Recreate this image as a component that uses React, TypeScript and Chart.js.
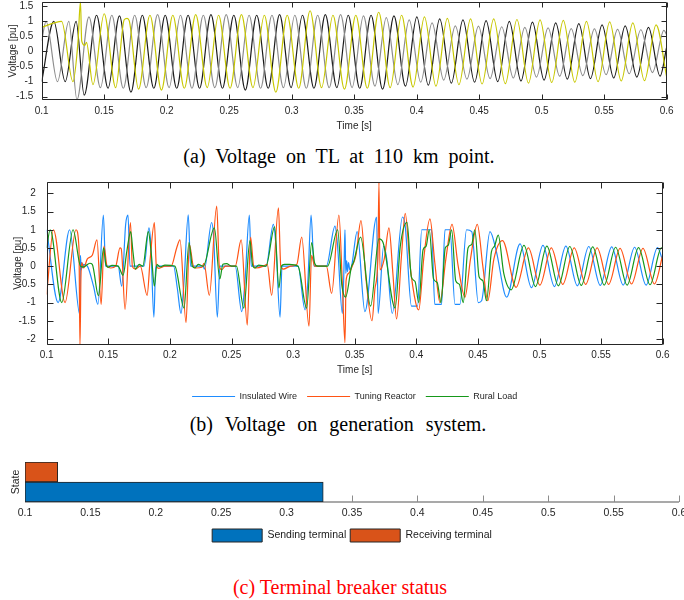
import React, { useEffect, useRef } from 'react';
import { Chart, registerables } from 'chart.js';

Chart.register(...registerables);
Chart.defaults.font.family = '"Liberation Sans", Arial, Helvetica, sans-serif';
Chart.defaults.color = '#262626';

// ---------- shared ticks ----------
const timeTicks = [0.1, 0.15, 0.2, 0.25, 0.3, 0.35, 0.4, 0.45, 0.5, 0.55, 0.6];
const tlVoltTicks = [-1.5, -1, -0.5, 0, 0.5, 1, 1.5];
const genVoltTicks = [-2, -1.5, -1, -0.5, 0, 0.5, 1, 1.5, 2];

// ---------- (a) voltage on TL at 110 km (extrema) ----------
const tlPhaseAT = [0.1000,0.1097,0.1188,0.1275,0.1340,0.1439,0.1531,0.1622,0.1714,0.1805,0.1897,0.1988,0.2080,0.2171,0.2263,0.2354,0.2446,0.2537,0.2629,0.2720,0.2812,0.2903,0.2995,0.3086,0.3178,0.3269,0.3361,0.3452,0.3544,0.3635,0.3727,0.3818,0.3910,0.4001,0.4093,0.4184,0.4277,0.4370,0.4463,0.4555,0.4648,0.4741,0.4834,0.4926,0.5019,0.5112,0.5205,0.5297,0.5390,0.5483,0.5576,0.5668,0.5761,0.5854,0.5947,0.6000];
const tlPhaseAV = [-1.00,1.00,-1.00,1.00,-1.45,1.20,-1.22,1.18,-1.35,1.20,-1.22,1.20,-1.22,1.20,-1.22,1.22,-1.22,1.20,-1.28,1.20,-1.22,1.22,-1.20,1.20,-1.22,1.22,-1.20,1.20,-1.22,1.20,-1.25,1.18,-1.15,1.15,-1.12,1.08,-1.05,1.05,-1.02,1.02,-1.00,1.00,-0.98,0.97,-0.95,0.95,-0.92,0.92,-0.90,0.88,-0.88,0.85,-0.85,0.80,-0.82,0.15];

const tlPhaseBT = [0.1000,0.1035,0.1126,0.1217,0.1282,0.1378,0.1470,0.1561,0.1653,0.1744,0.1836,0.1927,0.2019,0.2110,0.2202,0.2293,0.2385,0.2476,0.2568,0.2659,0.2751,0.2842,0.2934,0.3025,0.3117,0.3208,0.3300,0.3391,0.3483,0.3574,0.3666,0.3757,0.3849,0.3940,0.4032,0.4123,0.4216,0.4309,0.4402,0.4494,0.4587,0.4680,0.4773,0.4865,0.4958,0.5051,0.5144,0.5236,0.5329,0.5422,0.5515,0.5607,0.5700,0.5793,0.5886,0.5978,0.6000];
const tlPhaseBV = [0.36,1.00,-1.00,1.00,-1.60,1.15,-1.20,1.20,-1.22,1.20,-1.20,1.22,-1.20,1.20,-1.22,1.20,-1.20,1.22,-1.20,1.20,-1.22,1.20,-1.20,1.20,-1.22,1.20,-1.20,1.22,-1.20,1.18,-1.15,1.12,-1.10,1.05,-1.02,0.95,-0.95,0.85,-0.92,0.84,-0.90,0.82,-0.88,0.80,-0.85,0.78,-0.82,0.76,-0.80,0.75,-0.77,0.73,-0.74,0.72,-0.70,0.70,0.55];

const tlPhaseCT = [0.1000,0.1159,0.1250,0.1290,0.1310,0.1320,0.1345,0.1358,0.1410,0.1500,0.1592,0.1660,0.1683,0.1700,0.1775,0.1866,0.1958,0.2049,0.2141,0.2232,0.2324,0.2415,0.2507,0.2598,0.2690,0.2781,0.2873,0.2964,0.3056,0.3147,0.3239,0.3330,0.3422,0.3513,0.3605,0.3696,0.3788,0.3879,0.3971,0.4062,0.4154,0.4245,0.4338,0.4431,0.4523,0.4616,0.4709,0.4802,0.4894,0.4987,0.5080,0.5173,0.5265,0.5358,0.5451,0.5544,0.5636,0.5729,0.5822,0.5915,0.6000];
const tlPhaseCV = [0.80,1.00,-1.00,0.30,1.65,0.35,0.20,0.30,-1.10,1.25,-1.20,1.05,1.10,1.02,-1.25,1.20,-1.28,1.20,-1.22,1.22,-1.20,1.20,-1.22,1.22,-1.20,1.20,-1.35,1.20,-1.22,1.35,-1.20,1.20,-1.25,1.20,-1.22,1.30,-1.20,1.20,-1.18,1.15,-1.15,1.10,-1.10,1.08,-1.08,1.08,-1.07,1.06,-1.05,1.05,-1.03,1.03,-1.02,1.00,-1.00,0.98,-0.98,0.95,-0.97,0.88,-0.85];

// ---------- (b) voltage on generation system ----------
const wireT = [0.1000,0.1093,0.1186,0.1270,0.1274,0.1280,0.1285,0.1292,0.1300,0.1330,0.1380,0.1416,0.1460,0.1478,0.1580,0.1609,0.1641,0.1660,0.1676,0.1790,0.1830,0.1845,0.1870,0.1885,0.2030,0.2060,0.2090,0.2115,0.2149,0.2168,0.2270,0.2280,0.2339,0.2355,0.2385,0.2406,0.2530,0.2583,0.2610,0.2645,0.2660,0.2780,0.2840,0.2860,0.2894,0.2910,0.3040,0.3097,0.3120,0.3146,0.3170,0.3270,0.3340,0.3360,0.3400,0.3415,0.3421,0.3428,0.3435,0.3442,0.3450,0.3460,0.3475,0.3520,0.3583,0.3678,0.3690,0.3735,0.3760,0.3805,0.3888,0.3910,0.3961,0.4010,0.4044,0.4124,0.4150,0.4205,0.4233,0.4273,0.4314,0.4354,0.4408,0.4450,0.4503,0.4530,0.4598,0.4650,0.4733,0.4842,0.4935,0.5028,0.5121,0.5214,0.5307,0.5400,0.5493,0.5586,0.5679,0.5772,0.5865,0.5958,0.6000];
const wireV = [1.00,-1.00,1.00,-1.35,0.30,-0.10,0.10,-0.05,0.05,0.00,-0.55,-1.05,1.40,0.00,0.00,-0.55,1.15,1.40,0.00,0.00,1.05,0.60,-1.40,0.00,0.00,-0.60,-1.30,-0.40,1.41,0.00,0.00,-0.08,1.20,0.80,-1.40,0.00,0.00,-1.25,-0.40,1.40,0.00,0.00,1.15,0.60,-1.40,0.00,0.00,-1.20,-0.40,1.40,0.00,0.00,1.10,0.60,-1.30,0.20,1.00,-0.20,0.15,-0.15,0.10,-0.10,0.00,0.95,-1.25,1.35,-1.30,0.55,0.20,-1.30,1.35,1.10,-1.10,-1.10,1.00,1.00,-1.05,-1.05,1.00,1.00,-1.05,-1.05,1.00,0.95,-1.00,-0.95,0.95,0.40,-0.85,0.61,-0.59,0.57,-0.56,0.55,-0.54,0.54,-0.53,0.53,-0.52,0.52,-0.52,0.51,0.15];

const reactorT = [0.1000,0.1055,0.1149,0.1238,0.1262,0.1270,0.1278,0.1285,0.1300,0.1330,0.1370,0.1408,0.1442,0.1465,0.1490,0.1520,0.1560,0.1595,0.1605,0.1636,0.1680,0.1695,0.1720,0.1760,0.1815,0.1840,0.1874,0.1890,0.1910,0.1960,0.2010,0.2055,0.2082,0.2131,0.2158,0.2190,0.2210,0.2260,0.2277,0.2320,0.2380,0.2401,0.2420,0.2450,0.2530,0.2579,0.2628,0.2655,0.2680,0.2700,0.2760,0.2790,0.2826,0.2881,0.2900,0.2920,0.2980,0.3030,0.3070,0.3129,0.3150,0.3175,0.3270,0.3313,0.3372,0.3400,0.3421,0.3430,0.3450,0.3480,0.3510,0.3551,0.3590,0.3640,0.3665,0.3688,0.3697,0.3705,0.3740,0.3778,0.3810,0.3840,0.3880,0.3910,0.3950,0.3995,0.4020,0.4060,0.4111,0.4150,0.4192,0.4240,0.4290,0.4340,0.4395,0.4440,0.4495,0.4540,0.4580,0.4630,0.4700,0.4810,0.4910,0.5003,0.5096,0.5189,0.5282,0.5375,0.5468,0.5561,0.5654,0.5747,0.5840,0.5933,0.6000];
const reactorV = [-0.78,1.00,-1.00,1.00,0.50,-2.20,-0.30,0.10,-0.05,0.20,0.30,0.72,-1.05,0.55,0.00,-0.05,0.00,0.50,0.48,-1.19,1.20,0.00,-0.08,0.00,-0.80,0.20,1.20,0.00,-0.06,0.00,0.00,0.50,0.72,-1.55,0.60,0.00,-0.05,-0.03,0.08,-0.80,1.65,0.00,-0.10,0.00,0.00,0.72,-1.62,0.80,0.00,-0.05,0.00,0.05,-0.80,1.60,0.00,-0.08,0.00,0.05,0.80,-1.65,0.30,0.00,0.00,-0.75,1.40,-0.50,-2.10,-0.40,-0.20,0.00,0.30,1.25,-0.30,-1.50,-0.60,0.20,2.30,-0.10,0.20,1.05,-0.20,-1.45,0.30,1.45,0.00,-1.00,-1.20,0.20,1.30,0.10,-1.00,0.20,1.15,0.00,-0.85,0.20,1.15,0.00,-0.95,0.20,0.70,-0.58,0.50,-0.52,0.50,-0.50,0.50,-0.50,0.50,-0.50,0.49,-0.49,0.49,-0.49,0.30];

const ruralT = [0.1000,0.1028,0.1122,0.1214,0.1275,0.1300,0.1350,0.1370,0.1420,0.1462,0.1480,0.1500,0.1530,0.1580,0.1620,0.1650,0.1682,0.1700,0.1720,0.1750,0.1780,0.1825,0.1850,0.1874,0.1895,0.1920,0.1960,0.2040,0.2115,0.2155,0.2182,0.2204,0.2230,0.2270,0.2361,0.2405,0.2430,0.2460,0.2500,0.2540,0.2600,0.2650,0.2670,0.2690,0.2720,0.2780,0.2850,0.2885,0.2905,0.2930,0.2970,0.3040,0.3110,0.3151,0.3175,0.3200,0.3280,0.3362,0.3395,0.3426,0.3475,0.3490,0.3548,0.3629,0.3697,0.3730,0.3828,0.3870,0.3925,0.3960,0.3990,0.4020,0.4055,0.4080,0.4105,0.4140,0.4170,0.4200,0.4235,0.4260,0.4287,0.4320,0.4350,0.4381,0.4420,0.4450,0.4475,0.4510,0.4540,0.4570,0.4610,0.4635,0.4665,0.4710,0.4770,0.4874,0.4967,0.5060,0.5153,0.5246,0.5339,0.5432,0.5525,0.5618,0.5711,0.5804,0.5897,0.5990,0.6000];
const ruralV = [0.50,1.00,-1.00,1.00,0.00,-0.02,0.08,0.05,-0.81,0.50,0.05,-0.03,0.02,0.00,-0.25,0.40,0.95,0.40,-0.08,0.05,0.00,0.95,0.30,-0.55,0.05,-0.02,0.03,0.00,-1.15,0.65,0.00,-0.05,0.05,0.00,1.05,-0.35,0.05,0.07,0.00,0.00,-1.15,0.70,0.05,-0.05,0.03,0.00,1.08,-0.60,0.00,0.05,0.05,0.00,-1.15,0.65,0.08,0.00,0.00,1.00,-0.50,-0.85,0.00,0.10,0.80,-1.10,0.75,0.65,-1.15,0.55,1.20,-0.30,-0.42,-1.00,0.45,0.55,1.00,-0.35,-0.45,-1.00,0.50,0.58,1.00,-0.40,-0.50,-1.00,0.50,0.60,1.00,-0.30,-0.40,-0.95,0.40,0.55,0.85,-0.20,-0.65,0.57,-0.56,0.55,-0.54,0.54,-0.53,0.53,-0.52,0.52,-0.52,0.51,-0.51,0.50,0.49];

// ---------- (c) terminal breaker status ----------
const breakerRows = ['Receiving', 'Sending'];
const breakerNames = ['Sending terminal', 'Receiving terminal'];
const breakerStart = 0.1;
const breakerOpen = [0.328, 0.125];

const pts = (t: number[], v: number[]) => t.map((x, i) => ({ x, y: v[i] }));
const fmt = (v: any) => String(v);

const framePlugin = {
  id: 'frame',
  beforeDatasetsDraw(chart: any, _a: any, opts: any) {
    if (!opts || opts.mode !== 'baseline') return;
    const { ctx, chartArea: a } = chart;
    const xs = chart.scales.x;
    ctx.save();
    ctx.strokeStyle = opts.color;
    ctx.lineWidth = 1;
    ctx.beginPath();
    for (const t of xs.ticks) {
      const p = Math.round(xs.getPixelForValue(t.value)) + 0.5;
      ctx.moveTo(p, a.bottom);
      ctx.lineTo(p, a.bottom - opts.len);
    }
    ctx.stroke();
    ctx.lineWidth = 1.6;
    ctx.beginPath();
    ctx.moveTo(a.left, a.bottom);
    ctx.lineTo(a.right, a.bottom);
    ctx.stroke();
    ctx.restore();
  },
  afterDatasetsDraw(chart: any, _a: any, opts: any) {
    if (!opts || opts.mode !== 'box') return;
    const { ctx, chartArea: a } = chart;
    const xs = chart.scales.x;
    const ys = chart.scales.y;
    const L = Math.round(a.left) + 0.5;
    const R = Math.round(a.right) - 0.5;
    const T = Math.round(a.top) + 0.5;
    const B = Math.round(a.bottom) - 0.5;
    ctx.save();
    ctx.strokeStyle = opts.color;
    ctx.lineWidth = 1;
    ctx.beginPath();
    ctx.rect(L, T, R - L, B - T);
    for (const t of xs.ticks) {
      const p = Math.round(xs.getPixelForValue(t.value)) + 0.5;
      ctx.moveTo(p, B); ctx.lineTo(p, B - opts.len);
      ctx.moveTo(p, T); ctx.lineTo(p, T + opts.len);
    }
    for (const t of ys.ticks) {
      const p = Math.round(ys.getPixelForValue(t.value)) + 0.5;
      ctx.moveTo(L, p); ctx.lineTo(L + opts.len, p);
      ctx.moveTo(R, p); ctx.lineTo(R - opts.len, p);
    }
    ctx.stroke();
    ctx.restore();
  },
};

const zeroPad = (s: any) => { s.paddingTop = 0; s.paddingBottom = 0; s.paddingLeft = 0; s.paddingRight = 0; };

function timeAxis(height: number, tickPad: number, titlePadBottom: number, title: string | null, fontSize: number) {
  return {
    type: 'linear',
    min: 0.1,
    max: 0.6,
    afterBuildTicks: (s: any) => { s.ticks = timeTicks.map((v) => ({ value: v })); },
    afterFit: (s: any) => { s.height = height; zeroPad(s); },
    ticks: { callback: fmt, padding: tickPad, maxRotation: 0, autoSkip: false, font: { size: fontSize }, color: '#262626' },
    grid: { display: false, drawTicks: false },
    border: { display: false },
    title: title ? { display: true, text: title, font: { size: 10 }, color: '#262626', padding: { top: 0, bottom: titlePadBottom } } : { display: false },
  };
}

function voltAxis(min: number, max: number, ticks: number[], width: number, tickPad: number, titlePad: number) {
  return {
    type: 'linear',
    min,
    max,
    afterBuildTicks: (s: any) => { s.ticks = ticks.map((v) => ({ value: v })); },
    afterFit: (s: any) => { s.width = width; zeroPad(s); },
    ticks: { callback: fmt, padding: tickPad, font: { size: 10 }, color: '#262626' },
    grid: { display: false, drawTicks: false },
    border: { display: false },
    title: { display: true, text: 'Voltage [pu]', font: { size: 10 }, color: '#262626', padding: { top: titlePad, bottom: 0 } },
  };
}

const lineDefaults = { pointRadius: 0, borderWidth: 1.2, cubicInterpolationMode: 'monotone', fill: false };
const byIndex = (a: any, b: any) => a.datasetIndex - b.datasetIndex;

export default function App() {
  const c1 = useRef<HTMLCanvasElement>(null);
  const c2 = useRef<HTMLCanvasElement>(null);
  const c3 = useRef<HTMLCanvasElement>(null);

  useEffect(() => {
    const charts: Chart[] = [];

    charts.push(new Chart(c1.current as HTMLCanvasElement, {
      type: 'line',
      data: {
        datasets: [
          { label: 'Phase A', data: pts(tlPhaseAT, tlPhaseAV), borderColor: '#1a1a1a', order: 2, ...lineDefaults },
          { label: 'Phase B', data: pts(tlPhaseBT, tlPhaseBV), borderColor: '#8c8c8c', order: 1, ...lineDefaults },
          { label: 'Phase C', data: pts(tlPhaseCT, tlPhaseCV), borderColor: '#c8c800', order: 0, ...lineDefaults },
        ] as any,
      },
      options: {
        responsive: false,
        animation: false,
        events: [],
        layout: { padding: { left: 0, top: 1.7, right: 33.3, bottom: 0 } },
        plugins: { legend: { display: false }, tooltip: { enabled: false }, frame: { mode: 'box', color: '#262626', len: 5 } } as any,
        scales: {
          x: timeAxis(35.7, 5.4, 4, 'Time [s]', 10) as any,
          y: voltAxis(-1.62, 1.65, tlVoltTicks, 41.7, 8.4, 7.3) as any,
        },
      },
      plugins: [framePlugin as any],
    }));

    charts.push(new Chart(c2.current as HTMLCanvasElement, {
      type: 'line',
      data: {
        datasets: [
          { label: 'Insulated Wire', data: pts(wireT, wireV), borderColor: '#1e8cff', order: 2, pointStyle: 'line', ...lineDefaults },
          { label: 'Tuning Reactor', data: pts(reactorT, reactorV), borderColor: '#ff5314', order: 1, pointStyle: 'line', ...lineDefaults },
          { label: 'Rural Load', data: pts(ruralT, ruralV), borderColor: '#16981a', order: 0, pointStyle: 'line', ...lineDefaults },
        ] as any,
      },
      options: {
        responsive: false,
        animation: false,
        events: [],
        layout: { padding: { left: 0, top: 11.7, right: 37.3, bottom: 0 } },
        plugins: {
          legend: {
            display: true,
            position: 'bottom',
            fullSize: false,
            labels: { usePointStyle: true, pointStyle: 'line', pointStyleWidth: 43, padding: 10, font: { size: 9 }, color: '#262626', sort: byIndex },
          },
          tooltip: { enabled: false },
          frame: { mode: 'box', color: '#262626', len: 6 },
        } as any,
        scales: {
          x: timeAxis(37.2, 4, 6, 'Time [s]', 10) as any,
          y: voltAxis(-2.16, 2.32, genVoltTicks, 46.7, 11, 12.3) as any,
        },
      },
      plugins: [framePlugin as any],
    }));

    charts.push(new Chart(c3.current as HTMLCanvasElement, {
      type: 'bar',
      data: {
        labels: breakerRows,
        datasets: [
          { label: breakerNames[0], data: [null, [breakerStart, breakerOpen[0]]], backgroundColor: '#0072BD', borderColor: '#262626', borderWidth: 1, borderSkipped: false, grouped: false, barPercentage: 1, categoryPercentage: 1 },
          { label: breakerNames[1], data: [[breakerStart, breakerOpen[1]], null], backgroundColor: '#D95319', borderColor: '#262626', borderWidth: 1, borderSkipped: false, grouped: false, barPercentage: 1, categoryPercentage: 1 },
        ] as any,
      },
      options: {
        indexAxis: 'y',
        responsive: false,
        animation: false,
        events: [],
        layout: { padding: { left: 0, top: 12, right: 21, bottom: 0 } },
        plugins: {
          legend: {
            display: true,
            position: 'bottom',
            fullSize: false,
            labels: { boxWidth: 50, boxHeight: 13, padding: 4, font: { size: 10.5 }, color: '#1a1a1a', sort: byIndex },
          },
          tooltip: { enabled: false },
          frame: { mode: 'baseline', color: '#8c8c8c', len: 6.5 },
        } as any,
        scales: {
          x: timeAxis(23, 4.4, 0, null, 10.5) as any,
          y: {
            type: 'category',
            afterFit: (s: any) => { s.width = 25; zeroPad(s); },
            ticks: { display: false },
            grid: { display: false, drawTicks: false },
            border: { display: false },
            title: { display: true, text: 'State', font: { size: 10.5 }, color: '#262626', padding: { top: 9.7, bottom: 0 } },
          } as any,
        },
      },
      plugins: [framePlugin as any],
    }));

    return () => charts.forEach((c) => c.destroy());
  }, []);

  const cap: React.CSSProperties = {
    position: 'absolute',
    left: 0,
    width: 684,
    textAlign: 'center',
    fontFamily: '"Liberation Serif", "Times New Roman", serif',
    fontSize: 20,
    lineHeight: '20px',
    height: 20,
    whiteSpace: 'nowrap',
  };

  return (
    <div style={{ position: 'absolute', left: 0, top: 0, width: 684, height: 600, overflow: 'hidden', background: '#ffffff' }}>
      <canvas ref={c1} width={700} height={136} style={{ position: 'absolute', left: 0, top: 0, width: 700, height: 136 }} />
      <div style={{ ...cap, top: 146, color: '#000', wordSpacing: 5, left: -3 }}>(a) Voltage on TL at 110 km point.</div>
      <canvas ref={c2} width={700} height={241} style={{ position: 'absolute', left: 0, top: 170, width: 700, height: 241 }} />
      <div style={{ ...cap, top: 414, color: '#000', wordSpacing: 7, left: -4 }}>(b) Voltage on generation system.</div>
      <canvas ref={c3} width={700} height={102} style={{ position: 'absolute', left: 0, top: 450, width: 700, height: 102 }} />
      <div style={{ ...cap, top: 577, color: '#ff0000', left: -2 }}>(c) Terminal breaker status</div>
    </div>
  );
}
